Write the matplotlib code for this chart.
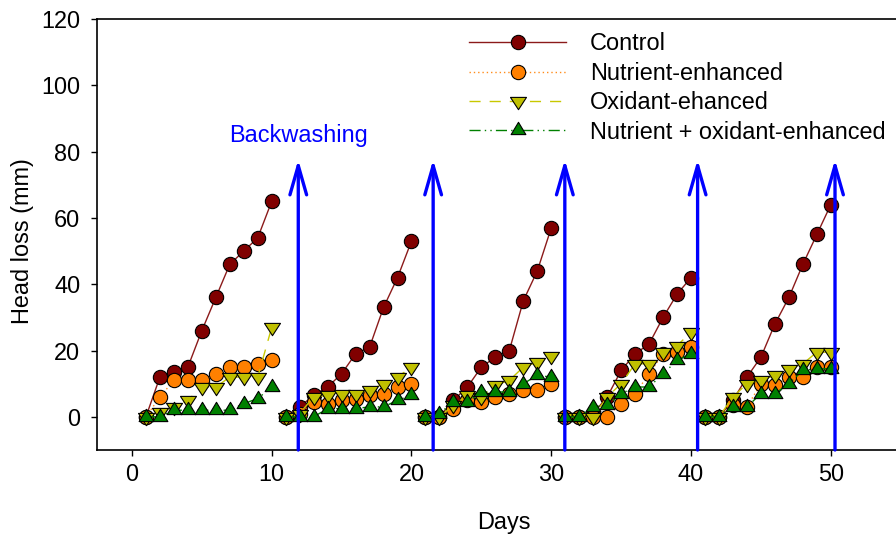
import matplotlib
matplotlib.use('Agg')
import matplotlib.pyplot as plt
from matplotlib.path import Path

plt.rcParams['font.family'] = ['Liberation Sans', 'DejaVu Sans']

# ---------------- data ----------------
days = list(range(1, 51))
cycle_len = 10
control = [0, 12, 13.5, 15, 26, 36, 46, 50, 54, 65,
           0, 3, 6.5, 9, 13, 19, 21, 33, 42, 53,
           0, 0, 5, 9, 15, 18, 20, 35, 44, 57,
           0, 0, 1, 6, 14, 19, 22, 30, 37, 42,
           0, 0, 5, 12, 18, 28, 36, 46, 55, 64]
nutrient = [0, 6, 11, 11, 11, 13, 15, 15, 16, 17,
            0, 1, 4.5, 4, 5, 5.5, 6.5, 7, 9, 10,
            0, 0, 2.5, 5, 4.5, 6, 7, 8, 8, 10,
            0, 0, 0, 0, 4, 7, 13, 19, 19.5, 21,
            0, 0, 3.5, 3, 10, 9.5, 12, 12, 15, 15]
oxidant = [0, 1.5, 3, 5, 9, 9, 12, 12, 12, 27,
           0, 1, 6, 6.5, 7, 7, 8, 10, 12, 15,
           0, 0, 3.5, 6.5, 6, 9.5, 11, 15, 16.5, 18.5,
           0, 0, 0, 6, 10, 16, 16, 19.5, 21.5, 25.5,
           0, 0, 6, 10, 11, 12.5, 14.5, 16, 19.5, 19.5]
combined = [0, 0, 2, 2, 2, 2, 2, 4, 5.5, 9,
            0, 0, 0, 2.5, 2.5, 2.5, 3, 3, 5, 6.5,
            0, 1, 4.5, 4.5, 7.5, 7.5, 7.5, 10, 12.5, 12,
            0, 0, 3, 3.5, 7, 9, 9, 13, 17, 19,
            0, 0, 3, 3, 7, 7, 10, 14, 14.5, 14.5]
labels = ['Control', 'Nutrient-enhanced', 'Oxidant-ehanced',
          'Nutrient + oxidant-enhanced']
backwash_days = [11.9, 21.55, 30.97, 40.47, 50.3]
arrow_top = 77.6
backwash_label = 'Backwashing'
xticks = [0, 10, 20, 30, 40, 50]
yticks = [0, 20, 40, 60, 80, 100, 120]

# ---------------- styles ----------------
tri_up = Path([(0, 1), (-0.9, -0.5), (0.9, -0.5), (0, 1)], closed=True)
tri_down = Path([(0, -1), (-0.976, 0.5), (0.976, 0.5), (0, -1)], closed=True)

styles = [
    dict(color='#8B1A1A', ls='-', marker='o', mfc='#800000', ms=10.3),
    dict(color='#FF8C1A', ls=(0, (1, 2.1)), marker='o', mfc='#FF8000', ms=10.3),
    dict(color='#C8C800', ls=(0, (8, 6.5)), marker=tri_down, mfc='#C0C000', ms=11.8),
    dict(color='#008000', ls=(0, (8, 3, 1, 3, 1, 3)), marker=tri_up, mfc='#008000', ms=11.8),
]
series = [control, nutrient, oxidant, combined]
FS = 16.9

fig = plt.figure(figsize=(8.96, 5.4), dpi=100)
ax = fig.add_axes([97 / 896, 90 / 540, 803.7 / 896, 431 / 540])

for vals, lab, st in zip(series, labels, styles):
    for c in range(0, len(days), cycle_len):
        ax.plot(days[c:c + cycle_len], vals[c:c + cycle_len],
                color=st['color'], linestyle=st['ls'], linewidth=1.0,
                marker=st['marker'], markersize=st['ms'],
                markerfacecolor=st['mfc'], markeredgecolor='black',
                markeredgewidth=0.8, label=lab if c == 0 else None,
                clip_on=False)

ylo = -10
for bx in backwash_days:
    ax.annotate('', xy=(bx, arrow_top), xytext=(bx, ylo),
                arrowprops=dict(arrowstyle='->, head_length=2.1, head_width=0.6',
                                color='#0000FF', lw=2.4, mutation_scale=10,
                                shrinkA=0, shrinkB=0))
ax.text(backwash_days[0], 82.8, backwash_label, color='#0000FF',
        fontsize=FS, ha='center', va='baseline')

ax.set_xlim(-2.5, 55)
ax.set_ylim(ylo, 120)
ax.set_xticks(xticks)
ax.set_yticks(yticks)
ax.tick_params(direction='out', length=4.5, width=1.0, labelsize=FS,
               colors='black')
ax.tick_params(axis='y', pad=7.5)
ax.tick_params(axis='x', pad=5)
for s in ['left', 'bottom', 'top']:
    ax.spines[s].set_linewidth(1.2)
ax.spines['right'].set_visible(False)

fig.text(504 / 896, 1 - 522 / 540, 'Days', fontsize=FS, ha='center', va='center')
fig.text(22 / 896, 1 - 241 / 540, 'Head loss (mm)', fontsize=FS, ha='center',
         va='center', rotation=90)

leg = ax.legend(loc='upper left', bbox_to_anchor=(469 / 896, 1 - 32.5 / 540),
                bbox_transform=fig.transFigure, frameon=False, fontsize=FS,
                handlelength=4.15, handletextpad=1.0, labelspacing=0.27,
                borderpad=0, borderaxespad=0, numpoints=1)

fig.savefig('out.png', dpi=100)
